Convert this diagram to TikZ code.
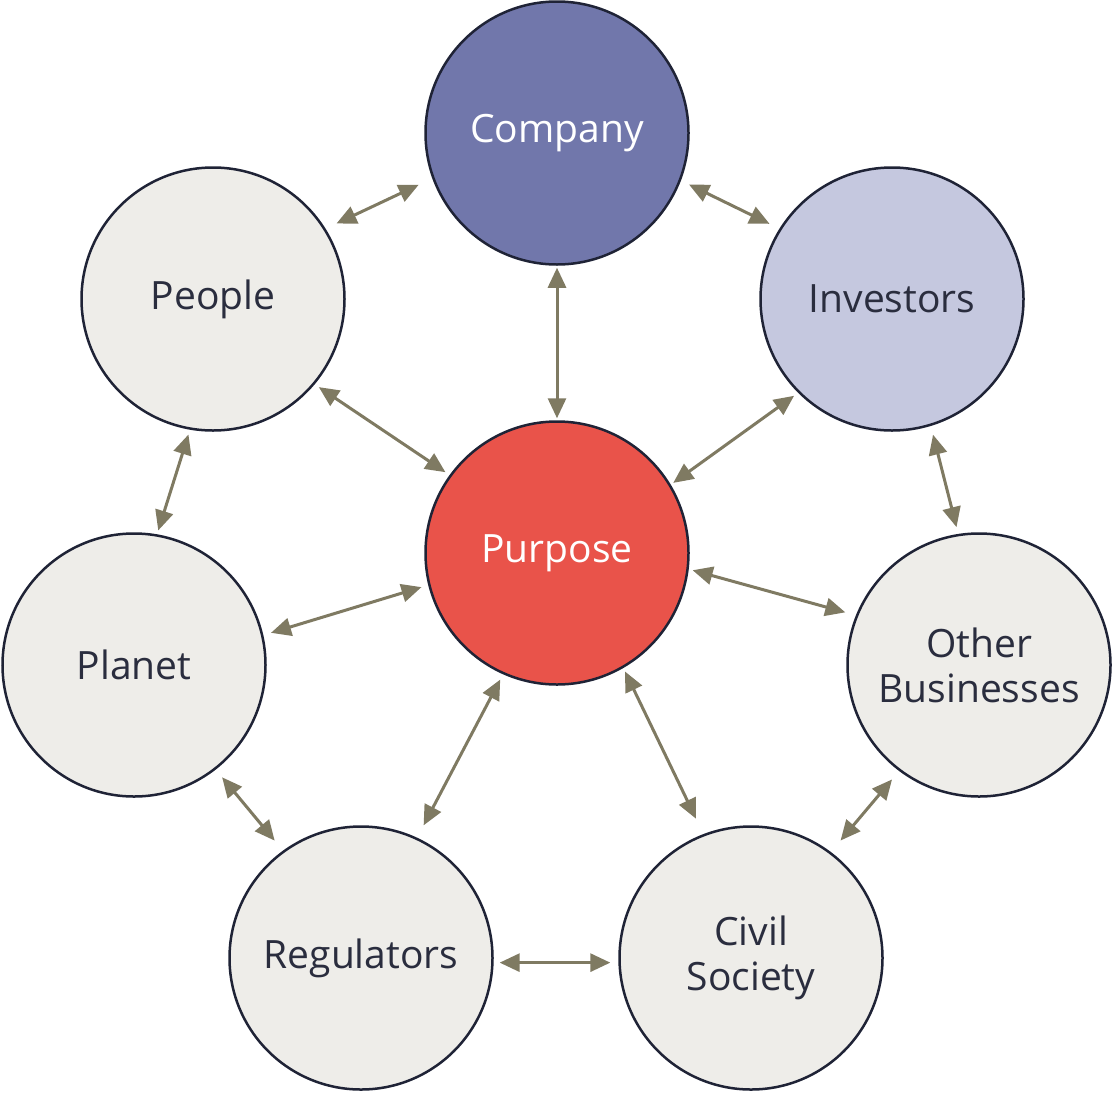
\documentclass[tikz,border=0pt]{standalone}
\usepackage{fontspec}
\setmainfont{Open Sans}
\usetikzlibrary{arrows.meta}
\definecolor{ringline}{HTML}{1F2336}
\definecolor{inktext}{HTML}{2A2D3E}
\definecolor{linkcol}{HTML}{7F7A62}
\definecolor{companyfill}{HTML}{7177AB}
\definecolor{investorfill}{HTML}{C5C8DF}
\definecolor{purposefill}{HTML}{E9534A}
\definecolor{partyfill}{HTML}{EEEDE9}

\begin{document}
\begin{tikzpicture}[
  x=1pt,y=-1pt,
  font=\fontsize{39}{45}\selectfont,
  party/.style={
    circle,
    draw=ringline,
    line width=2.5pt,
    fill=partyfill,
    text=inktext,
    align=center,
    minimum size=263pt,
    inner sep=0pt
  },
  link/.style={
    {Triangle[length=20pt,width=18pt]}-{Triangle[length=20pt,width=18pt]},
    line width=3pt,
    draw=linkcol
  }
]
  \useasboundingbox (0,0) rectangle (1113,1095);

  % Centre and the company on top.
  \node[party,fill=purposefill,text=white] (purpose) at (557,553) {Purpose};
  \node[party,fill=companyfill,text=white] (company) at (557,133) {Company};

  % Stakeholders round the purpose.
  \node[party] (people) at (213,299) {People};
  \node[party,fill=investorfill] (investors) at (892,299) {Investors};
  \node[party] (planet) at (134,665) {Planet};
  \node[party] (others) at (979,665) {Other\\Businesses};
  \node[party] (regulators) at (361,958) {Regulators};
  \node[party] (civil) at (751,958) {Civil\\Society};

  % Two-way links.
  \draw[link,shorten <=2pt,shorten >=2pt] (company.-90) -- (purpose.90);
  \draw[link,shorten <=12pt,shorten >=15pt] (people.32) -- (company.200);
  \draw[link,shorten <=9pt,shorten >=11pt] (company.-21) -- (investors.148);
  \draw[link,shorten <=5pt,shorten >=5pt] (people.-40) -- (purpose.144);
  \draw[link,shorten <=5pt,shorten >=3pt] (investors.225) -- (purpose.31);
  \draw[link,shorten <=5pt,shorten >=4pt] (people.260) -- (planet.80);
  \draw[link,shorten <=9pt,shorten >=7pt] (investors.-73) -- (others.99);
  \draw[link,shorten <=8pt,shorten >=7pt] (planet.13) -- (purpose.194);
  \draw[link,shorten <=4pt,shorten >=11pt] (purpose.-7) -- (others.158);
  \draw[link,shorten <=10pt,shorten >=13pt] (planet.-52) -- (regulators.126);
  \draw[link,shorten <=6pt,shorten >=14pt] (purpose.246) -- (regulators.65);
  \draw[link,shorten <=4pt,shorten >=17pt] (purpose.-60) -- (civil.111);
  \draw[link,shorten <=11pt,shorten >=15pt] (others.233) -- (civil.53);
  \draw[link,shorten <=6pt,shorten >=8pt] (regulators.-2) -- (civil.182);
\end{tikzpicture}
\end{document}
